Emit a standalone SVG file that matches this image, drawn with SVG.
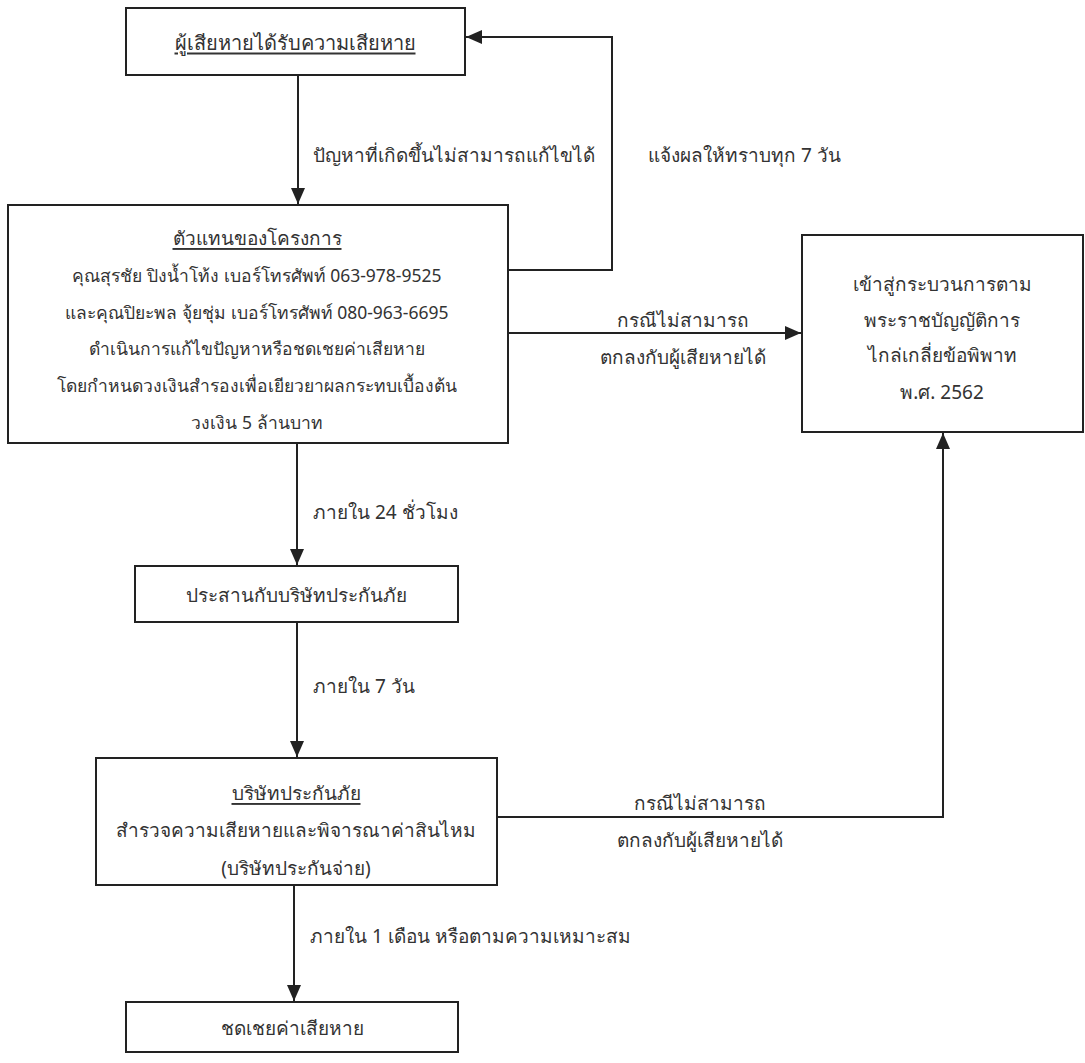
<svg xmlns="http://www.w3.org/2000/svg" width="1085" height="1063" viewBox="0 0 1085 1063">
<style>
.box{fill:#fff;stroke:#222;stroke-width:2}
.t{font-family:"Noto Sans","DejaVu Sans",sans-serif;font-size:19px;fill:#333;text-anchor:middle;dominant-baseline:central}
.s{font-size:17.5px}
.l{font-family:"Noto Sans","DejaVu Sans",sans-serif;font-size:19px;fill:#333;dominant-baseline:central}
.u{text-decoration:underline}
.c{fill:none;stroke:#222;stroke-width:2}
</style>
<defs>
<marker id="ah" markerUnits="userSpaceOnUse" markerWidth="16" markerHeight="14" refX="16" refY="7" orient="auto">
<path d="M0,0 L16,7 L0,14 z" fill="#222"/>
</marker>
</defs>
<rect width="1085" height="1063" fill="#fff"/>
<g id="connectors">
<path class="c" d="M298,75 V204" marker-end="url(#ah)"/>
<path class="c" d="M508,270 H612 V37 H466" marker-end="url(#ah)"/>
<path class="c" d="M508,333 H801" marker-end="url(#ah)"/>
<path class="c" d="M297,443 V565" marker-end="url(#ah)"/>
<path class="c" d="M297,622 V757" marker-end="url(#ah)"/>
<path class="c" d="M497,817 H943 V433" marker-end="url(#ah)"/>
<path class="c" d="M294,885 V1001" marker-end="url(#ah)"/>
<text class="l" x="313" y="155">ปัญหาที่เกิดขึ้นไม่สามารถแก้ไขได้</text>
<text class="l" x="648" y="155">แจ้งผลให้ทราบทุก 7 วัน</text>
<text class="t" x="683" y="320">กรณีไม่สามารถ</text>
<text class="t" x="683" y="357">ตกลงกับผู้เสียหายได้</text>
<text class="l" x="313" y="512">ภายใน 24 ชั่วโมง</text>
<text class="l" x="313" y="686">ภายใน 7 วัน</text>
<text class="t" x="700" y="803">กรณีไม่สามารถ</text>
<text class="t" x="700" y="840">ตกลงกับผู้เสียหายได้</text>
<text class="l" x="310" y="936">ภายใน 1 เดือน หรือตามความเหมาะสม</text>
</g>
<g id="n1">
<rect class="box" x="126" y="8" width="339" height="67"/>
<text class="t u" x="295" y="42" style="font-size:20px">ผู้เสียหายได้รับความเสียหาย</text>
</g>
<g id="n2">
<rect class="box" x="8" y="205" width="500" height="238"/>
<text class="t u" x="257" y="238">ตัวแทนของโครงการ</text>
<text class="t s" x="257" y="275">คุณสุรชัย ปิงน้ำโท้ง เบอร์โทรศัพท์ 063-978-9525</text>
<text class="t s" x="257" y="312">และคุณปิยะพล จุ้ยชุ่ม เบอร์โทรศัพท์ 080-963-6695</text>
<text class="t s" x="257" y="348">ดำเนินการแก้ไขปัญหาหรือชดเชยค่าเสียหาย</text>
<text class="t s" x="257" y="385">โดยกำหนดวงเงินสำรองเพื่อเยียวยาผลกระทบเบื้องต้น</text>
<text class="t s" x="257" y="422">วงเงิน 5 ล้านบาท</text>
</g>
<g id="n3">
<rect class="box" x="802" y="235" width="281" height="197"/>
<text class="t" x="942" y="284">เข้าสู่กระบวนการตาม</text>
<text class="t" x="942" y="320">พระราชบัญญัติการ</text>
<text class="t" x="942" y="355">ไกล่เกลี่ยข้อพิพาท</text>
<text class="t" x="942" y="392">พ.ศ. 2562</text>
</g>
<g id="n4">
<rect class="box" x="135" y="566" width="323" height="56"/>
<text class="t" x="296" y="595">ประสานกับบริษัทประกันภัย</text>
</g>
<g id="n5">
<rect class="box" x="96" y="758" width="401" height="127"/>
<text class="t u" x="296" y="793">บริษัทประกันภัย</text>
<text class="t" x="296" y="830">สำรวจความเสียหายและพิจารณาค่าสินไหม</text>
<text class="t" x="296" y="868">(บริษัทประกันจ่าย)</text>
</g>
<g id="n6">
<rect class="box" x="126" y="1002" width="332" height="50"/>
<text class="t" x="292" y="1028">ชดเชยค่าเสียหาย</text>
</g>
</svg>
